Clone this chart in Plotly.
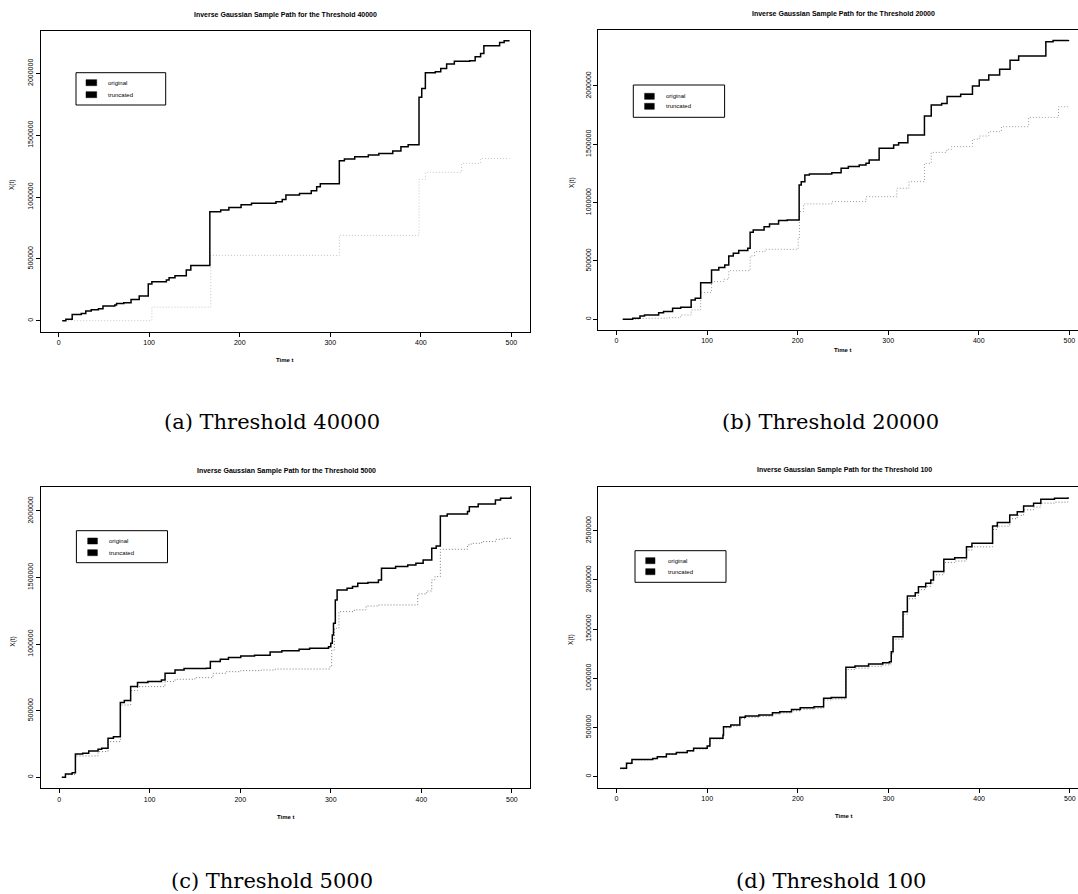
import plotly.graph_objects as go

# ---------------- data ----------------
# Panel (a): threshold 40000
ta_o = [4, 8, 15, 25, 30, 36, 44, 49, 62, 64, 72, 80, 89, 99, 103, 119, 122, 128.5, 141, 146,
        167, 179, 188, 201.5, 213, 240, 247, 251, 266, 279, 285, 289, 310, 315.6, 327, 342, 353.6,
        369, 378, 386, 398, 401, 405, 416, 422, 428.5, 437, 454, 460, 466, 469.6, 487, 492, 498]
xa_o = [0, 11000, 51000, 59000, 78000, 89000, 97000, 119000, 127000, 140000, 146000, 172000,
        199000, 296000, 315000, 329000, 348000, 364000, 410000, 447000, 881000, 895000, 916000,
        938000, 949000, 962000, 981000, 1016000, 1029000, 1051000, 1083000, 1108000, 1294000,
        1307000, 1326000, 1339000, 1353000, 1372000, 1407000, 1423000, 1806000, 1878000, 2005000,
        2013000, 2040000, 2075000, 2097000, 2102000, 2134000, 2161000, 2223000, 2250000, 2264000,
        2264000]
ta_t = [4, 103, 168, 310, 398, 405, 445, 466, 498]
xa_t = [0, 110000, 528000, 690000, 1143000, 1200000, 1272000, 1312000, 1312000]

# Panel (b): threshold 20000
tb_o = [7, 18, 26, 31, 46.6, 52, 62, 71, 82.5, 87, 93, 105, 113, 119.6, 124, 129, 135, 145,
        147.6, 151, 163, 169, 179, 188.5, 201.7, 204, 208, 213, 237.7, 248, 256, 268, 275.5, 279,
        290, 306, 311.5, 321.7, 340, 347.5, 359, 365, 380, 393, 400.5, 411, 423, 434.5, 444, 474,
        482, 499]
xb_o = [0, 9000, 29000, 37000, 57000, 66000, 94000, 103000, 166000, 180000, 314000, 423000,
        443000, 466000, 543000, 566000, 589000, 609000, 746000, 766000, 794000, 817000, 846000,
        851000, 1151000, 1180000, 1237000, 1246000, 1257000, 1294000, 1309000, 1323000, 1337000,
        1366000, 1466000, 1494000, 1514000, 1580000, 1743000, 1837000, 1851000, 1909000, 1929000,
        2000000, 2051000, 2094000, 2143000, 2220000, 2257000, 2380000, 2389000, 2394000]
tb_t = [7, 26, 56, 71, 82.5, 93, 105, 118.5, 124, 147.6, 152.5, 164, 200.6, 202, 206.7, 237.7,
        275.5, 309.6, 323, 340, 347.5, 364.5, 370, 393, 400.5, 411, 425, 455, 488, 499]
xb_t = [0, 9000, 14000, 37000, 80000, 229000, 323000, 343000, 417000, 543000, 580000, 600000,
        694000, 923000, 989000, 1009000, 1051000, 1123000, 1180000, 1337000, 1431000, 1457000,
        1480000, 1543000, 1571000, 1609000, 1651000, 1731000, 1822000, 1822000]

# Panel (c): threshold 5000
tc_o = [3, 7, 14.4, 18, 26, 32.7, 43, 47, 54, 60, 67.6, 72, 79, 86.6, 98, 113, 117, 128, 138,
        162.6, 167, 178, 187, 200.6, 215.8, 233, 246, 265, 276.6, 297.5, 300, 301.7, 303, 305, 307,
        318, 324, 329.8, 341, 352.6, 356, 371.6, 385, 394, 402, 411.5, 416.4, 421, 428.6, 451, 453,
        462.8, 481.8, 487.5, 499]
xc_o = [0, 25000, 35000, 175000, 180000, 198000, 210000, 218000, 293000, 305000, 561000, 576000,
        681000, 711000, 719000, 731000, 781000, 806000, 816000, 818000, 869000, 886000, 899000,
        911000, 916000, 941000, 951000, 961000, 969000, 981000, 1006000, 1069000, 1156000, 1332000,
        1407000, 1419000, 1432000, 1457000, 1462000, 1482000, 1569000, 1582000, 1594000, 1607000,
        1632000, 1720000, 1737000, 1962000, 1977000, 1995000, 2032000, 2052000, 2082000, 2095000,
        2108000]
tc_t = [3, 7, 18, 43, 54, 67.6, 79, 86.6, 117, 128, 150, 170, 185, 200.6, 223, 238.6, 299, 301,
        304, 309, 326, 339, 352.6, 396, 406, 411.5, 415, 421, 451, 455, 466.6, 481.8, 489.4, 499]
xc_t = [0, 20000, 160000, 193000, 268000, 543000, 651000, 681000, 719000, 736000, 748000, 781000,
        793000, 801000, 806000, 813000, 831000, 956000, 1119000, 1244000, 1257000, 1286000,
        1294000, 1377000, 1399000, 1482000, 1507000, 1712000, 1745000, 1757000, 1770000, 1787000,
        1795000, 1795000]

# Panel (d): threshold 100
td_o = [4, 11, 17, 40, 45, 55, 66, 78, 85, 100, 103, 117.4, 118, 126, 136, 142, 157, 172, 180,
        193, 202.6, 217.8, 228.4, 236.7, 253, 263, 278, 293.6, 301, 303, 305, 316, 320.8, 329.5,
        333, 341, 346.6, 349.6, 361, 373, 386, 392, 414.8, 420, 433.7, 442, 449, 460, 468, 483, 498]
xd_o = [85000, 136000, 176000, 186000, 203000, 230000, 247000, 264000, 288000, 312000, 390000,
        423000, 508000, 525000, 603000, 617000, 627000, 650000, 661000, 684000, 701000, 711000,
        796000, 806000, 1111000, 1125000, 1145000, 1159000, 1169000, 1271000, 1423000, 1677000,
        1836000, 1870000, 1931000, 1965000, 1999000, 2084000, 2209000, 2226000, 2338000, 2372000,
        2548000, 2582000, 2660000, 2693000, 2751000, 2778000, 2819000, 2829000, 2839000]
td_t = td_o
xd_t = [80000, 130000, 172000, 182000, 198000, 225000, 241000, 258000, 281000, 305000, 383000,
        414000, 497000, 514000, 590000, 604000, 614000, 636000, 647000, 670000, 686000, 696000,
        780000, 790000, 1090000, 1103000, 1122000, 1136000, 1146000, 1248000, 1398000, 1650000,
        1808000, 1841000, 1901000, 1934000, 1968000, 2052000, 2176000, 2192000, 2303000, 2336000,
        2512000, 2546000, 2622000, 2655000, 2712000, 2739000, 2780000, 2790000, 2800000]

thresholds = ["40000", "20000", "5000", "100"]
letters = ["a", "b", "c", "d"]
x_ticks = [0, 100, 200, 300, 400, 500]
y_ticks_abc = [0, 500000, 1000000, 1500000, 2000000]
y_ticks_d = [0, 500000, 1000000, 1500000, 2000000, 2500000]
legend_labels = ["original", "truncated"]

# ---------------- layout geometry (pixels) ----------------
W, H = 1078, 894
def fx(p): return p / W
def fy(p): return 1 - p / H

panels = [
    dict(t_o=ta_o, x_o=xa_o, t_t=ta_t, x_t=xa_t, yt=y_ticks_abc,
         box=(40.5, 529.5, 30.7, 331.7), xr=[-20, 520], yr=[-88900, 2345000], right=True,
         title_xy=(285, 15), xlab_xy=(285, 360), ylab_xy=(12, 185), cap_xy=(272, 422),
         leg=(76, 165.7, 72.7, 105), sq_x=(86, 96.7), rows=(82.7, 94.7), tx=106, tcol="#c4c4c4"),
    dict(t_o=tb_o, x_o=xb_o, t_t=tb_t, x_t=xb_t, yt=y_ticks_abc,
         box=(598.3, 1078, 30, 330), xr=[-20, 509.5], yr=[-91700, 2480000], right=False,
         title_xy=(843, 14), xlab_xy=(843, 350), ylab_xy=(572.6, 183.3), cap_xy=(830, 422),
         leg=(633.3, 724.6, 85, 117.3), sq_x=(644.6, 654.3), rows=(96.3, 106.3), tx=664.2, tcol="#9a9a9a"),
    dict(t_o=tc_o, x_o=xc_o, t_t=tc_t, x_t=xc_t, yt=y_ticks_abc,
         box=(41, 530, 486.7, 788.3), xr=[-20, 520], yr=[-82600, 2182000], right=True,
         title_xy=(286, 471), xlab_xy=(286, 816.7), ylab_xy=(13, 641.7), cap_xy=(272, 880.5),
         leg=(76.4, 167.5, 530.7, 562.7), sq_x=(87.7, 97.4), rows=(541, 552.7), tx=107.3, tcol="#7a7a7a"),
    dict(t_o=td_o, x_o=xd_o, t_t=td_t, x_t=xd_t, yt=y_ticks_d,
         box=(598.4, 1078, 486.7, 787.7), xr=[-20, 509], yr=[-111800, 2947000], right=False,
         title_xy=(844, 470), xlab_xy=(844, 816), ylab_xy=(570.9, 640), cap_xy=(830.5, 880.5),
         leg=(635, 726, 550.7, 582.3), sq_x=(645.7, 655), rows=(560.7, 571.7), tx=665.9, tcol="#7a7a7a"),
]

fig = go.Figure()
shapes = []
annotations = []
sans = "Liberation Sans, Arial, sans-serif"
tick_font = dict(family=sans, size=7, color="black")

for i, p in enumerate(panels):
    n = "" if i == 0 else str(i + 1)
    xa, ya = "x" + n, "y" + n
    fig.add_trace(go.Scatter(x=p["t_t"], y=p["x_t"], mode="lines", line_shape="hv",
                             line=dict(color=p["tcol"], width=1, dash="1px,2px"),
                             xaxis=xa, yaxis=ya, showlegend=False, hoverinfo="skip"))
    fig.add_trace(go.Scatter(x=p["t_o"], y=p["x_o"], mode="lines", line_shape="hv",
                             line=dict(color="black", width=1.5),
                             xaxis=xa, yaxis=ya, showlegend=False, hoverinfo="skip"))
    x0, x1, y0, y1 = p["box"]
    fig.update_layout(**{
        "xaxis" + n: dict(domain=[fx(x0), min(1.0, fx(x1))], anchor=ya, range=p["xr"],
                          tickvals=x_ticks, ticktext=[str(v) for v in x_ticks],
                          ticks="outside", ticklen=4, tickwidth=1, tickcolor="black",
                          showline=True, linecolor="black", linewidth=1, mirror=True,
                          showgrid=False, zeroline=False, tickfont=tick_font),
        "yaxis" + n: dict(domain=[fy(y1), fy(y0)], anchor=xa, range=p["yr"],
                          tickvals=p["yt"], ticktext=[str(v) for v in p["yt"]],
                          tickangle=-90, ticks="outside", ticklen=4, tickwidth=1,
                          tickcolor="black", showline=True, linecolor="black", linewidth=1,
                          mirror=p["right"], showgrid=False, zeroline=False, tickfont=tick_font),
    })
    tx_, ty_ = p["title_xy"]
    annotations.append(dict(x=fx(tx_), y=fy(ty_), xref="paper", yref="paper", showarrow=False,
                            text="<b>Inverse Gaussian Sample Path for the Threshold %s</b>" % thresholds[i],
                            font=dict(family=sans, size=7, color="black"),
                            xanchor="center", yanchor="middle"))
    lx, ly = p["xlab_xy"]
    annotations.append(dict(x=fx(lx), y=fy(ly), xref="paper", yref="paper", showarrow=False,
                            text="<b>Time t</b>", font=dict(family=sans, size=6, color="black"),
                            xanchor="center", yanchor="middle"))
    yx, yy = p["ylab_xy"]
    annotations.append(dict(x=fx(yx), y=fy(yy), xref="paper", yref="paper", showarrow=False,
                            text="X(t)", textangle=-90, font=dict(family=sans, size=6.5, color="black"),
                            xanchor="center", yanchor="middle"))
    cx, cy = p["cap_xy"]
    annotations.append(dict(x=fx(cx), y=fy(cy), xref="paper", yref="paper", showarrow=False,
                            text="(%s) Threshold %s" % (letters[i], thresholds[i]),
                            font=dict(family="DejaVu Serif, serif", size=21, color="black"),
                            xanchor="center", yanchor="middle"))
    # legend box
    lx0, lx1, ly0, ly1 = p["leg"]
    shapes.append(dict(type="rect", xref="paper", yref="paper", x0=fx(lx0), x1=fx(lx1),
                       y0=fy(ly1), y1=fy(ly0), line=dict(color="black", width=1),
                       fillcolor="white", layer="above"))
    sx0, sx1 = p["sq_x"]
    for r, lab in zip(p["rows"], legend_labels):
        shapes.append(dict(type="rect", xref="paper", yref="paper", x0=fx(sx0), x1=fx(sx1),
                           y0=fy(r + 3), y1=fy(r - 3), line=dict(color="black", width=0.5),
                           fillcolor="black", layer="above"))
        annotations.append(dict(x=fx(p["tx"]), y=fy(r), xref="paper", yref="paper",
                                showarrow=False, text=lab,
                                font=dict(family=sans, size=6, color="black"),
                                xanchor="left", yanchor="middle"))

fig.update_layout(width=W, height=H, margin=dict(l=0, r=0, t=0, b=0),
                  paper_bgcolor="white", plot_bgcolor="white", showlegend=False,
                  shapes=shapes, annotations=annotations)
fig.write_html("out.html")
